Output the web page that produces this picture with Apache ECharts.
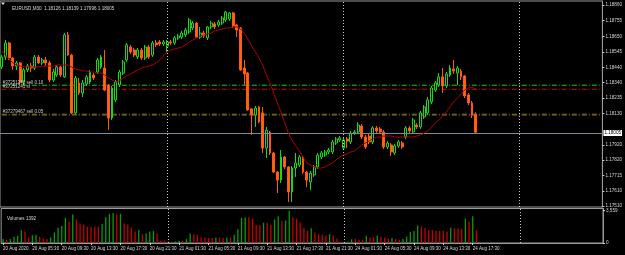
<!DOCTYPE html>
<html><head><meta charset="utf-8">
<script src="https://cdn.jsdelivr.net/npm/echarts@6/dist/echarts.min.js"></script>
<style>html,body{margin:0;padding:0;background:#000}#c{width:625px;height:255px}</style>
</head><body><div id="c"></div>
<script>
// ---- categories (M30 bars) ----
const sessionDays = ['20 Aug','21 Aug','24 Aug','25 Aug'];
const sessionFirstSlot = [3,0,0,0];
const sessionBars = [45,48,48,23];
const categories = [];
sessionDays.forEach((d,k)=>{for(let s=sessionFirstSlot[k];s<sessionFirstSlot[k]+sessionBars[k];s++){const h=Math.floor(s/2),m=s%2?'30':'00';categories.push(d+' '+String(h).padStart(2,'0')+':'+m);}});
const tickLabels = ['20 Aug 2020','20 Aug 05:30','20 Aug 09:30','20 Aug 13:30','20 Aug 17:30','20 Aug 21:30','21 Aug 01:30','21 Aug 05:30','21 Aug 09:30','21 Aug 13:30','21 Aug 17:30','21 Aug 21:30','24 Aug 01:30','24 Aug 05:30','24 Aug 09:30','24 Aug 13:30','24 Aug 17:30'];
const separatorTimes = ['21 Aug 00:00','24 Aug 00:00','25 Aug 00:00'];

// ---- price data ----
const opens = [1.18444,1.18511,1.18605,1.18504,1.18450,1.18471,1.18343,1.18424,1.18450,1.18437,
1.18511,1.18471,1.18491,1.18471,1.18356,1.18390,1.18444,1.18377,1.18659,1.18524,
1.18135,1.18336,1.18269,1.18329,1.18343,1.18390,1.18410,1.18444,1.18437,1.18323,
1.18101,1.18222,1.18323,1.18403,1.18491,1.18578,1.18558,1.18511,1.18558,1.18504,
1.18578,1.18524,1.18605,1.18612,1.18598,1.18585,1.18612,1.18605,1.18639,1.18645,
1.18659,1.18679,1.18706,1.18739,1.18645,1.18672,1.18639,1.18713,1.18733,1.18726,
1.18739,1.18760,1.18766,1.18807,1.18726,1.18706,1.18437,1.18403,1.18162,1.18121,
1.18175,1.18135,1.17899,1.18007,1.17866,1.17738,1.17684,1.17839,1.17772,1.17604,
1.17765,1.17785,1.17839,1.17738,1.17671,1.17718,1.17772,1.17839,1.17852,1.17873,
1.17873,1.17933,1.17953,1.17899,1.17960,1.17940,1.18000,1.18007,1.18047,1.17973,
1.17980,1.17940,1.18034,1.18027,1.18007,1.17906,1.17920,1.17866,1.17913,1.17933,
1.17973,1.18034,1.18007,1.18054,1.18041,1.18108,1.18135,1.18209,1.18289,1.18323,
1.18377,1.18316,1.18390,1.18430,1.18403,1.18417,1.18383,1.18256,1.18202,1.18126];
const closes = [1.18511,1.18605,1.18504,1.18450,1.18471,1.18343,1.18424,1.18450,1.18437,1.18511,
1.18471,1.18491,1.18471,1.18356,1.18410,1.18444,1.18390,1.18659,1.18524,1.18135,
1.18370,1.18269,1.18336,1.18377,1.18410,1.18370,1.18491,1.18511,1.18289,1.18101,
1.18303,1.18343,1.18410,1.18477,1.18592,1.18545,1.18524,1.18558,1.18504,1.18578,
1.18511,1.18605,1.18592,1.18598,1.18612,1.18612,1.18605,1.18639,1.18652,1.18672,
1.18692,1.18760,1.18739,1.18645,1.18672,1.18652,1.18713,1.18739,1.18713,1.18746,
1.18773,1.18813,1.18807,1.18719,1.18692,1.18424,1.18397,1.18155,1.18121,1.18168,
1.18074,1.17899,1.18020,1.17866,1.17738,1.17684,1.17839,1.17772,1.17604,1.17765,
1.17799,1.17839,1.17738,1.17684,1.17731,1.17772,1.17852,1.17866,1.17873,1.17886,
1.17940,1.17960,1.17967,1.17953,1.17946,1.18000,1.18007,1.18054,1.17973,1.17906,
1.17940,1.18034,1.18014,1.18007,1.17906,1.17933,1.17873,1.17913,1.17940,1.17906,
1.18034,1.18014,1.18088,1.18041,1.18135,1.18175,1.18222,1.18303,1.18336,1.18377,
1.18316,1.18397,1.18437,1.18417,1.18437,1.18377,1.18249,1.18202,1.18121,1.18005];
const highs = [1.18524,1.18625,1.18612,1.18511,1.18484,1.18477,1.18437,1.18464,1.18471,1.18524,
1.18524,1.18504,1.18511,1.18484,1.18430,1.18457,1.18450,1.18672,1.18679,1.18531,
1.18383,1.18370,1.18356,1.18390,1.18424,1.18403,1.18504,1.18524,1.18558,1.18329,
1.18316,1.18356,1.18424,1.18491,1.18605,1.18592,1.18571,1.18571,1.18571,1.18592,
1.18592,1.18618,1.18625,1.18625,1.18625,1.18625,1.18625,1.18652,1.18666,1.18686,
1.18706,1.18773,1.18753,1.18746,1.18713,1.18686,1.18719,1.18753,1.18746,1.18760,
1.18786,1.18820,1.18813,1.18813,1.18733,1.18713,1.18491,1.18410,1.18168,1.18182,
1.18182,1.18175,1.18041,1.18014,1.17873,1.17745,1.17886,1.17846,1.17778,1.17778,
1.17866,1.17852,1.17846,1.17745,1.17745,1.17785,1.17866,1.17879,1.17886,1.17899,
1.17953,1.17973,1.17980,1.17967,1.17973,1.18014,1.18020,1.18074,1.18061,1.17987,
1.17994,1.18047,1.18047,1.18041,1.18020,1.17946,1.17933,1.17926,1.17953,1.17946,
1.18047,1.18047,1.18101,1.18067,1.18148,1.18188,1.18242,1.18316,1.18350,1.18403,
1.18437,1.18410,1.18457,1.18491,1.18450,1.18430,1.18390,1.18269,1.18215,1.18139];
const lows = [1.18430,1.18491,1.18491,1.18424,1.18424,1.18329,1.18323,1.18410,1.18410,1.18424,
1.18464,1.18457,1.18450,1.18343,1.18343,1.18377,1.18377,1.18370,1.18518,1.18128,
1.18128,1.18256,1.18242,1.18316,1.18329,1.18356,1.18397,1.18430,1.18282,1.18020,
1.18088,1.18209,1.18309,1.18390,1.18477,1.18531,1.18511,1.18497,1.18491,1.18491,
1.18497,1.18511,1.18578,1.18585,1.18585,1.18545,1.18592,1.18592,1.18625,1.18632,
1.18645,1.18666,1.18692,1.18639,1.18632,1.18639,1.18625,1.18699,1.18699,1.18713,
1.18726,1.18746,1.18753,1.18706,1.18645,1.18417,1.18323,1.18148,1.17987,1.18041,
1.18067,1.17866,1.17832,1.17852,1.17731,1.17597,1.17664,1.17758,1.17537,1.17537,
1.17705,1.17772,1.17725,1.17637,1.17617,1.17705,1.17758,1.17826,1.17839,1.17859,
1.17859,1.17920,1.17940,1.17886,1.17899,1.17926,1.17987,1.17994,1.17960,1.17893,
1.17926,1.17926,1.18000,1.17994,1.17893,1.17893,1.17846,1.17852,1.17899,1.17893,
1.17960,1.18000,1.17994,1.18027,1.18027,1.18094,1.18121,1.18195,1.18276,1.18309,
1.18269,1.18303,1.18377,1.18397,1.18323,1.18356,1.18235,1.18188,1.18101,1.17996];
const maValues = [1.18551,1.18524,1.18497,1.18471,1.18457,1.18450,1.18444,1.18444,1.18444,1.18444,
1.18444,1.18450,1.18450,1.18450,1.18450,1.18457,1.18457,1.18457,1.18457,1.18444,
1.18430,1.18424,1.18417,1.18417,1.18410,1.18410,1.18403,1.18403,1.18390,1.18370,
1.18356,1.18343,1.18350,1.18370,1.18383,1.18397,1.18410,1.18424,1.18437,1.18444,
1.18450,1.18457,1.18471,1.18491,1.18518,1.18545,1.18558,1.18565,1.18571,1.18578,
1.18592,1.18612,1.18625,1.18639,1.18652,1.18659,1.18666,1.18672,1.18686,1.18692,
1.18699,1.18706,1.18706,1.18713,1.18713,1.18699,1.18672,1.18632,1.18585,1.18545,
1.18504,1.18457,1.18390,1.18336,1.18269,1.18202,1.18141,1.18067,1.18000,1.17953,
1.17913,1.17879,1.17839,1.17799,1.17785,1.17772,1.17765,1.17765,1.17772,1.17785,
1.17799,1.17819,1.17839,1.17852,1.17859,1.17873,1.17879,1.17899,1.17920,1.17933,
1.17946,1.17960,1.17973,1.17973,1.17980,1.17980,1.17980,1.17973,1.17973,1.17973,
1.17973,1.17973,1.17973,1.17980,1.17987,1.18000,1.18014,1.18041,1.18067,1.18088,
1.18114,1.18141,1.18175,1.18209,1.18235,1.18262,1.18289,1.18303,1.18309,1.18296];
const volumes = [430,360,430,680,790,1400,1260,610,860,900,
680,500,430,610,1150,1690,1870,2770,2340,3130,
2590,2160,2050,1800,1800,1800,1800,2120,2840,3200,
3310,3130,3200,2160,2050,1690,1260,1400,970,1040,
1260,1330,1040,250,250,180,40,180,250,250,
430,1040,970,900,610,610,540,540,610,610,
540,610,610,900,1510,2770,2840,2840,2700,1980,
1980,2230,2230,1980,2590,2950,2410,2480,3559,2840,
2700,2230,1690,1330,1620,1150,970,900,790,970,
790,500,140,40,140,430,430,360,360,790,
610,610,790,680,610,500,540,430,360,430,
680,1220,1330,1940,1800,1690,1440,1440,1330,1330,
1330,1260,1690,1620,1620,1580,2700,2340,2950,1392];

// ---- axis ticks / levels / texts ----
const priceTicks = [1.18860,1.18755,1.18650,1.18545,1.18440,1.18340,1.18235,1.18130,1.17920,1.17820,1.17715,1.17610,1.17510];
const priceMin = 1.17503, priceMax = 1.18887;
const volTicks = [0,3559];
const orderLevels = [1.18321,1.18294,1.18126,1.18119];
const orderColors = ['#1fc81f','#c41010','#1fc81f','#c41010'];
const orderLabels = ['#37251241 sell 0.10','#37251241 sl','#37279467 sell 0.05',''];
const bidPrice = 1.18005;
const chartTitle = 'EURUSD,M30  1.18126 1.18139 1.17996 1.18005';
const volumeTitle = 'Volumes 1392';

const FONT = 'Liberation Sans';
const TXT = '#d6d6d6';
const candles = opens.map((o,i)=>[o,closes[i],lows[i],highs[i]]);
const labelInterval = (idx)=> idx % 8 === 0 && idx < tickLabels.length*8;
const firstCat = categories[0], lastCat = categories[categories.length-1];

const chart = echarts.init(document.getElementById('c'), null, {renderer:'canvas'});
const mkSep = ()=>separatorTimes.map(t=>({xAxis:t,lineStyle:{color:'#c8c8c8',type:[1,2],width:1},label:{show:false}}));

const orderSeries = orderLevels.map((v,i)=>({
  type:'line',xAxisIndex:0,yAxisIndex:0,symbol:'none',z:2,silent:true,
  data:[[firstCat,v],[lastCat,v]],
  lineStyle:{color:orderColors[i],width:1,type:[5,2,1,2]}
}));
const orderTextSeries = {
  type:'scatter',xAxisIndex:0,yAxisIndex:0,symbolSize:0,silent:true,z:5,
  data:orderLevels.map((v,i)=>({value:[firstCat,v],label:{show:orderLabels[i]!=='',formatter:orderLabels[i]}})),
  label:{position:[1,-5],color:'#f0f0f0',fontSize:4.5,fontFamily:FONT,align:'left'}
};

chart.setOption({
  backgroundColor:'#000',
  animation:false,
  title:[
    {text:chartTitle,left:7,top:1.5,textStyle:{color:TXT,fontSize:4.6,fontWeight:'normal',fontFamily:FONT}},
    {text:volumeTitle,left:2,top:211,textStyle:{color:TXT,fontSize:4.6,fontWeight:'normal',fontFamily:FONT}}
  ],
  graphic:[{type:'polygon',shape:{points:[[1,2.5],[5,2.5],[3,5]]},style:{fill:'#e0e0e0'}}],
  grid:[
    {left:0,right:22,top:1,height:206,show:true,borderColor:'#9a9a9a',borderWidth:1},
    {left:0,right:22,top:208.5,height:34.5,show:true,borderColor:'#9a9a9a',borderWidth:1}
  ],
  xAxis:[
    {type:'category',gridIndex:0,data:categories,boundaryGap:true,axisLine:{show:false},axisTick:{show:false},axisLabel:{show:false},splitLine:{show:false}},
    {type:'category',gridIndex:1,data:categories,boundaryGap:true,
     axisLine:{show:true,lineStyle:{color:'#9a9a9a'}},
     axisTick:{show:true,interval:labelInterval,alignWithLabel:true,length:2,lineStyle:{color:'#cfcfcf'}},
     axisLabel:{interval:labelInterval,formatter:(v,idx)=>tickLabels[idx/8]||'',align:'left',margin:3,fontSize:4.5,color:TXT,fontFamily:FONT},
     splitLine:{show:false}}
  ],
  yAxis:[
    {type:'value',gridIndex:0,position:'right',min:priceMin,max:priceMax,
     axisLine:{show:true,lineStyle:{color:'#9a9a9a'}},
     axisTick:{show:true,length:2,customValues:priceTicks,lineStyle:{color:'#cfcfcf'}},
     axisLabel:{customValues:priceTicks,formatter:v=>v.toFixed(5),margin:3,fontSize:4.6,color:TXT,fontFamily:FONT},
     splitLine:{show:false}},
    {type:'value',gridIndex:1,position:'right',min:0,max:3800,
     axisLine:{show:true,lineStyle:{color:'#9a9a9a'}},
     axisTick:{show:true,length:2,customValues:volTicks,lineStyle:{color:'#cfcfcf'}},
     axisLabel:{customValues:volTicks,margin:3,fontSize:4.6,color:TXT,fontFamily:FONT},
     splitLine:{show:false}}
  ],
  series:[
    {type:'candlestick',xAxisIndex:0,yAxisIndex:0,data:candles,barWidth:2.4,z:4,
     itemStyle:{color:'#000000',color0:'#ff6414',borderColor:'#18d818',borderColor0:'#ff5a0a',borderWidth:1},
     markLine:{symbol:['none','none'],silent:true,animation:false,data:mkSep()}},
    {type:'line',xAxisIndex:0,yAxisIndex:0,data:maValues,showSymbol:false,symbol:'none',z:5,
     lineStyle:{color:'#b00000',width:1},
     markLine:{symbol:['none','none'],silent:true,animation:false,
       data:[{yAxis:bidPrice,lineStyle:{color:'#7a8a9a',type:'solid',width:1},
         label:{show:true,position:'end',formatter:bidPrice.toFixed(5),color:'#000',backgroundColor:'#ffffff',fontSize:4.6,fontFamily:FONT,padding:[1,1,0,1],distance:1}}]}},
    ...orderSeries,
    orderTextSeries,
    {type:'bar',xAxisIndex:1,yAxisIndex:1,data:volumes,barWidth:1.3,
     itemStyle:{color:(p)=> (p.dataIndex===0 || volumes[p.dataIndex] > volumes[p.dataIndex-1]) ? '#0a9a0a' : '#c80000'},
     markLine:{symbol:['none','none'],silent:true,animation:false,data:mkSep()}}
  ]
});
</script>
</body></html>
